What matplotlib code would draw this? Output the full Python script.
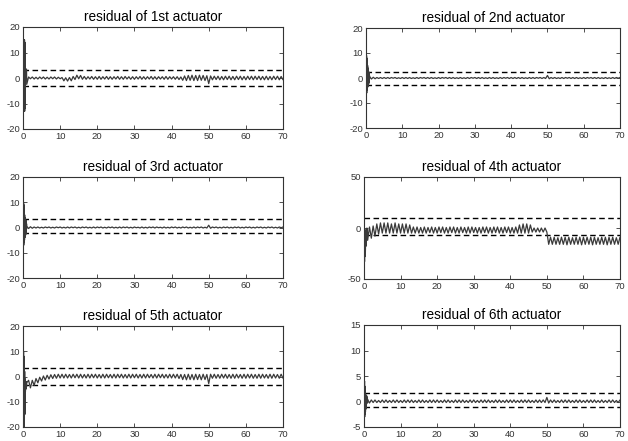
import numpy as np
import matplotlib
matplotlib.use("Agg")
import matplotlib.pyplot as plt

plt.rcParams['font.family'] = ['Liberation Sans', 'DejaVu Sans']
plt.rcParams['axes.unicode_minus'] = False

TITLES = [
    "residual of 1st actuator",
    "residual of 2nd actuator",
    "residual of 3rd actuator",
    "residual of 4th actuator",
    "residual of 5th actuator",
    "residual of 6th actuator",
]

# transient part, t = 0 .. 0.95 in steps of 0.05
T_START_STEP = 0.05
res1_start = [0, 1, 2, 3, 5, 8, 15, -13, 15, -13, 14, -12, 3.5, 3.5, 3.5,
              3.5, 3.5, 3.5, 3.5, 3.5]
res2_start = [0, 2, 5, 9, -6, 8, -5, 6, -4, 5,
              -3.5, 4, -3, 3, -2.5, 2.5, -2, 2, -1, 1]
res3_start = [0, 2, 5, 10, -7, 9, -6, 7, -5, 5,
              -4, 4, -3.5, 3.5, -3, 3, -2.5, 2.5, -1.5, 1.5]
res4_start = [0, -10, -20, -33, -20, -5, -8, -28, -20, -3,
              -18, -10, -1, -3, -12, -6, 0, -2, -8, -4]
res5_start = [0, 2, 5, 10, -25, -10, 8, -22, -5, 2,
              -15, -8, -1, -6, -4, -2, -5, -3, -2, -4]
res6_start = [0, 1, 2, 4, -3, 3, -2.5, 2, -2, 1.2,
              -1.5, 1.3, -1, 1.2, -0.5, 1.1, -0.3, 0.8, -0.2, 0.5]

# main part, t = 1.0 .. 70.5 in steps of 0.5 (one row = 5 s)
T_MAIN_START = 1.0
T_MAIN_STEP = 0.5
res1_main = [
    -2.5, 0.4, -0.3, 0.4, -0.4, 0.3, -0.4, 0.4, -0.3, 0.4,
    -0.4, 0.3, -0.4, 0.4, -0.3, 0.4, -0.4, 0.3, -0.3, 0.2,
    -1.1, 0.1, -1.2, 0.2, -1.1, 0.6, -0.6, 1.1, -0.3, 1.0,
    -0.5, 0.6, -0.5, 0.5, -0.4, 0.6, -0.5, 0.5, -0.5, 0.6,
    -0.5, 0.5, -0.4, 0.6, -0.5, 0.5, -0.5, 0.5, -0.4, 0.6,
    -0.5, 0.5, -0.5, 0.6, -0.4, 0.5, -0.5, 0.5, -0.5, 0.5,
    -0.4, 0.6, -0.5, 0.5, -0.5, 0.5, -0.4, 0.6, -0.5, 0.5,
    -0.5, 0.5, -0.4, 0.5, -0.5, 0.6, -0.5, 0.5, -0.4, 0.5,
    -0.5, 0.5, -0.6, 0.4, -0.9, 0.8, -1.0, 1.0, -0.9, 1.1,
    -1.0, 1.0, -1.0, 1.1, -0.9, 1.0, -1.0, 0.9, -2.2, 0.8,
    -0.7, 0.7, -0.6, 0.7, -0.7, 0.6, -0.7, 0.7, -0.6, 0.7,
    -0.7, 0.6, -0.7, 0.7, -0.6, 0.7, -0.7, 0.6, -0.7, 0.7,
    -0.6, 0.7, -0.7, 0.7, -0.6, 0.7, -0.7, 0.6, -0.7, 0.7,
    -0.7, 0.6, -0.7, 0.7, -0.6, 0.7, -0.7, 0.6, -0.7, 0.7,
]
res2_main = [
    0.6, -0.4, 0.3, -0.3, 0.2, -0.2, 0.2, -0.2, 0.2, -0.2,
    0.2, -0.2, 0.2, -0.1, 0.2, -0.2, 0.1, -0.2, 0.2, -0.2,
    0.2, -0.2, 0.2, -0.2, 0.1, -0.2, 0.2, -0.2, 0.2, -0.1,
    0.2, -0.2, 0.2, -0.2, 0.2, -0.2, 0.1, -0.2, 0.2, -0.2,
    0.2, -0.1, 0.2, -0.2, 0.2, -0.2, 0.2, -0.2, 0.1, -0.2,
    0.2, -0.2, 0.1, -0.2, 0.2, -0.2, 0.2, -0.1, 0.2, -0.2,
    0.2, -0.2, 0.2, -0.2, 0.1, -0.2, 0.2, -0.2, 0.2, -0.2,
    0.1, -0.2, 0.2, -0.2, 0.2, -0.1, 0.2, -0.2, 0.2, -0.2,
    0.2, -0.2, 0.2, -0.2, 0.2, -0.2, 0.1, -0.2, 0.2, -0.2,
    0.2, -0.2, 0.2, -0.1, 0.2, -0.2, 0.2, -0.2, 1.0, -0.3,
    0.2, -0.2, 0.2, -0.2, 0.1, -0.2, 0.2, -0.2, 0.2, -0.1,
    0.2, -0.2, 0.2, -0.2, 0.2, -0.2, 0.1, -0.2, 0.2, -0.2,
    0.2, -0.1, 0.2, -0.2, 0.2, -0.2, 0.2, -0.2, 0.1, -0.2,
    0.2, -0.2, 0.1, -0.2, 0.2, -0.2, 0.2, -0.1, 0.2, -0.2,
]
res3_main = [
    0.5, -0.4, 0.3, -0.3, 0.2, -0.2, 0.2, -0.2, 0.1, -0.2,
    0.2, -0.1, 0.2, -0.2, 0.1, -0.2, 0.2, -0.1, 0.2, -0.2,
    0.1, -0.2, 0.2, -0.2, 0.2, -0.1, 0.2, -0.2, 0.1, -0.2,
    0.2, -0.1, 0.2, -0.2, 0.1, -0.2, 0.2, -0.2, 0.2, -0.1,
    0.2, -0.2, 0.1, -0.2, 0.2, -0.1, 0.2, -0.2, 0.1, -0.2,
    0.2, -0.2, 0.2, -0.1, 0.2, -0.2, 0.1, -0.2, 0.2, -0.1,
    0.1, -0.2, 0.2, -0.2, 0.1, -0.2, 0.2, -0.1, 0.2, -0.2,
    0.2, -0.1, 0.1, -0.2, 0.2, -0.2, 0.1, -0.2, 0.2, -0.1,
    0.2, -0.2, 0.1, -0.2, 0.2, -0.1, 0.2, -0.2, 0.1, -0.2,
    0.2, -0.2, 0.2, -0.1, 0.2, -0.2, 0.1, -0.2, 0.9, -0.3,
    0.2, -0.1, 0.2, -0.2, 0.1, -0.2, 0.2, -0.1, 0.2, -0.2,
    0.1, -0.2, 0.2, -0.1, 0.2, -0.2, 0.1, -0.2, 0.2, -0.1,
    0.2, -0.2, 0.1, -0.2, 0.2, -0.1, 0.2, -0.2, 0.1, -0.2,
    0.2, -0.1, 0.2, -0.2, 0.1, -0.2, 0.2, -0.1, 0.2, -0.2,
]
res4_main = [
    -12, 1, -10, 2, -8, 4, -6, 5, -5, 5,
    -5, 5, -5, 4, -5, 5, -5, 4, -5, 4,
    -5, 4, -5, 3, -5, 1, -5, 1, -5, 0.5,
    -5, 1, -5, 0.5, -4.5, 1, -5, 0.5, -5, 1,
    -4.5, 1, -5, 0.5, -5, 1, -4.5, 1, -5, 0.5,
    -5, 1, -4.5, 0.5, -5, 1, -5, 1, -4.5, 0.5,
    -5, 0.5, -5, 1, -4.5, 1, -5, 0.5, -5, 1,
    -4.5, 1, -5, 0.5, -5, 1, -4.5, 1, -5, 0.5,
    -5, 1, -5, 3, -5, 4, -5, 4, -5, 3,
    -4, 0, -4, 0, -4, 0, -4, 0, -4, -16,
    -9, -16, -9, -16, -9.5, -16, -9, -16, -9, -16.5,
    -9, -16, -9.5, -16, -9, -16, -9, -16.5, -9, -16,
    -9, -16, -9, -16.5, -9, -16, -9.5, -16, -9, -16,
    -9, -16.5, -9, -16, -9, -16, -9.5, -16, -9, -16,
]
res5_main = [
    -2.5, -1.5, -4.5, -1.5, -3.5, -0.8, -2.5, -0.3, -1.8, 0.2,
    -1.4, 0.5, -1.0, 0.7, -0.8, 0.8, -0.7, 0.9, -0.6, 0.9,
    -0.6, 0.9, -0.6, 0.8, -0.6, 0.9, -0.5, 0.9, -0.6, 0.9,
    -0.6, 0.8, -0.6, 0.9, -0.6, 0.9, -0.5, 0.9, -0.6, 0.8,
    -0.6, 0.9, -0.6, 0.9, -0.5, 0.8, -0.6, 0.9, -0.6, 0.9,
    -0.5, 0.9, -0.6, 0.8, -0.6, 0.9, -0.6, 0.9, -0.5, 0.9,
    -0.6, 0.8, -0.6, 0.9, -0.6, 0.9, -0.5, 0.8, -0.6, 0.9,
    -0.6, 0.9, -0.5, 0.9, -0.6, 0.8, -0.6, 0.9, -0.6, 0.9,
    -0.6, 0.9, -0.8, 0.8, -1.2, 0.8, -1.3, 0.9, -1.2, 0.8,
    -1.3, 0.9, -1.2, 0.8, -1.3, 0.9, -1.2, 0.8, -2.8, 0.9,
    -0.7, 0.9, -0.7, 0.8, -0.7, 0.9, -0.6, 0.9, -0.7, 0.8,
    -0.7, 0.9, -0.7, 0.9, -0.6, 0.8, -0.7, 0.9, -0.7, 0.9,
    -0.6, 0.9, -0.7, 0.8, -0.7, 0.9, -0.7, 0.9, -0.6, 0.8,
    -0.7, 0.9, -0.7, 0.9, -0.6, 0.8, -0.7, 0.9, -0.7, 0.9,
]
res6_main = [
    0.4, -0.3, 0.3, -0.2, 0.3, -0.2, 0.2, -0.2, 0.3, -0.2,
    0.3, -0.2, 0.2, -0.2, 0.3, -0.2, 0.3, -0.2, 0.2, -0.2,
    0.3, -0.2, 0.3, -0.2, 0.3, -0.2, 0.2, -0.2, 0.3, -0.2,
    0.3, -0.2, 0.2, -0.2, 0.3, -0.2, 0.3, -0.2, 0.3, -0.2,
    0.2, -0.2, 0.3, -0.2, 0.3, -0.2, 0.2, -0.2, 0.3, -0.2,
    0.3, -0.2, 0.3, -0.2, 0.2, -0.2, 0.3, -0.2, 0.3, -0.2,
    0.2, -0.2, 0.3, -0.2, 0.3, -0.2, 0.3, -0.2, 0.2, -0.2,
    0.3, -0.2, 0.3, -0.2, 0.2, -0.2, 0.3, -0.2, 0.3, -0.2,
    0.3, -0.2, 0.2, -0.2, 0.3, -0.2, 0.3, -0.2, 0.3, -0.2,
    0.2, -0.2, 0.3, -0.2, 0.3, -0.2, 0.3, -0.2, 0.8, -0.3,
    0.3, -0.2, 0.3, -0.2, 0.2, -0.2, 0.3, -0.2, 0.3, -0.2,
    0.3, -0.2, 0.2, -0.2, 0.3, -0.2, 0.3, -0.2, 0.2, -0.2,
    0.3, -0.2, 0.3, -0.2, 0.3, -0.2, 0.2, -0.2, 0.3, -0.2,
    0.2, -0.2, 0.3, -0.2, 0.3, -0.2, 0.2, -0.2, 0.3, -0.2,
]

# thresholds (upper, lower)
thresholds = [(3.3, -3.0), (2.6, -2.6), (3.3, -2.3), (10, -7), (3.5, -3.3), (1.6, -1.0)]
ylims = [(-20, 20), (-20, 20), (-20, 20), (-50, 50), (-20, 20), (-5, 15)]
yticks = [[-20, -10, 0, 10, 20]] * 3 + [[-50, 0, 50], [-20, -10, 0, 10, 20], [-5, 0, 5, 10, 15]]
xticks = [0, 10, 20, 30, 40, 50, 60, 70]

starts = [res1_start, res2_start, res3_start, res4_start, res5_start, res6_start]
mains = [res1_main, res2_main, res3_main, res4_main, res5_main, res6_main]

# axes rectangles in pixels: left, top, right, bottom
W, H = 628, 441
boxes = [
    (23, 27, 283, 129),
    (366, 28, 620, 128),
    (23, 177, 283, 278),
    (364, 177, 620, 279),
    (23, 326, 283, 427),
    (364, 325, 620, 427),
]

fig = plt.figure(figsize=(W / 100, H / 100), dpi=100)

for i in range(6):
    l, t, r, b = boxes[i]
    ax = fig.add_axes([l / W, (H - b) / H, (r - l) / W, (b - t) / H])
    ys = np.array(starts[i], dtype=float)
    ym = np.array(mains[i], dtype=float)
    ts = np.arange(len(ys)) * T_START_STEP
    tm = T_MAIN_START + np.arange(len(ym)) * T_MAIN_STEP
    x = np.concatenate([ts, tm])
    y = np.concatenate([ys, ym])
    ax.plot(x, y, color='#3a3a3a', lw=0.9, zorder=3)
    up, lo = thresholds[i]
    ax.axhline(up, color='black', lw=1.0, ls=(0, (4, 2.5)))
    ax.axhline(lo, color='black', lw=1.0, ls=(0, (4, 2.5)))
    ax.set_xlim(0, 70)
    ax.set_ylim(*ylims[i])
    ax.set_xticks(xticks)
    ax.set_yticks(yticks[i])
    ax.tick_params(direction='in', top=True, right=True, length=3, width=0.6,
                   labelsize=6.8, colors='#333333', pad=2)
    for s in ax.spines.values():
        s.set_linewidth(0.8)
        s.set_color('#333333')
    ax.set_title(TITLES[i], fontsize=9.8, color='black', pad=4)

fig.savefig("out.png", dpi=100)
